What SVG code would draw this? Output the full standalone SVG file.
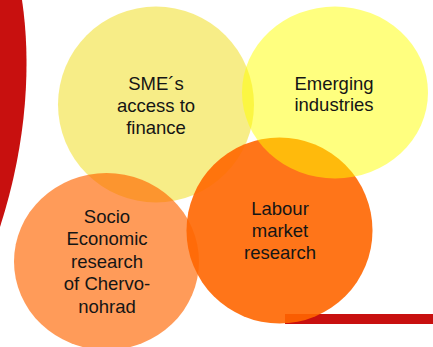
<svg xmlns="http://www.w3.org/2000/svg" width="433" height="347" viewBox="0 0 433 347">
<style>
.lbl{font-family:"Liberation Sans",Arial,sans-serif;font-size:18.5px;fill:#151515;text-anchor:middle}
.red{fill:#C8100F}
</style>
<rect width="433" height="347" fill="#ffffff"/>
<g id="decor">
<path class="red" d="M0,0 L22,0 C31,60 28,140 0,227 Z"/>
<rect class="red" x="285" y="314" width="148" height="10"/>
</g>
<g id="connectors"></g>
<g id="sme">
<circle cx="156" cy="104.5" r="98" fill="#F0DC10" fill-opacity="0.5"/>
<text class="lbl" x="156" y="90">SME´s</text>
<text class="lbl" x="156" y="112">access to</text>
<text class="lbl" x="156" y="134">finance</text>
</g>
<g id="socio">
<ellipse cx="106.5" cy="261.5" rx="92.5" ry="88.5" fill="#FF6600" fill-opacity="0.65"/>
<text class="lbl" x="107" y="222.5">Socio</text>
<text class="lbl" x="107" y="245">Economic</text>
<text class="lbl" x="107" y="267.5">research</text>
<text class="lbl" x="107" y="290">of Chervo-</text>
<text class="lbl" x="107" y="312.5">nohrad</text>
</g>
<g id="labour">
<circle cx="279.5" cy="230.5" r="93" fill="#FF6600" fill-opacity="0.9"/>
<text class="lbl" x="280" y="215">Labour</text>
<text class="lbl" x="280" y="237">market</text>
<text class="lbl" x="280" y="259">research</text>
</g>
<g id="emerging">
<ellipse cx="335" cy="92.5" rx="93" ry="86" fill="#FFFF00" fill-opacity="0.5"/>
<text class="lbl" x="334" y="90">Emerging</text>
<text class="lbl" x="334" y="111">industries</text>
</g>
</svg>
